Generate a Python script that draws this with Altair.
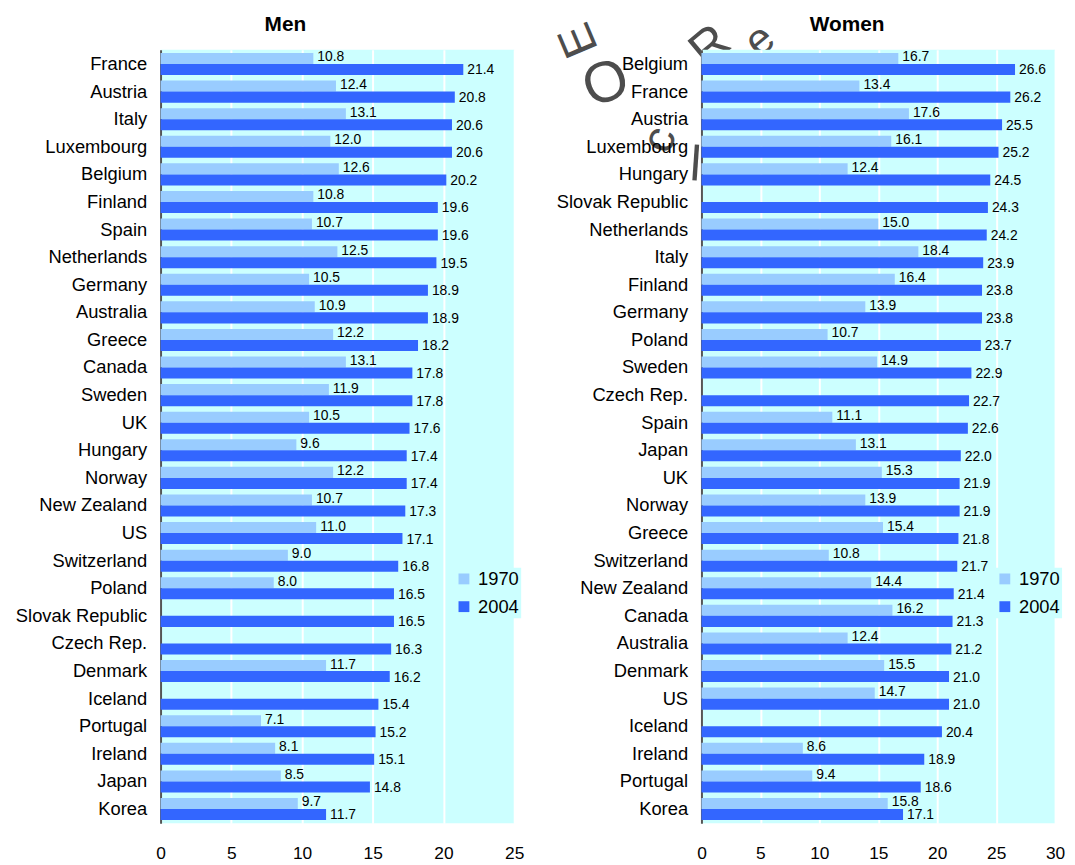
import altair as alt
import pandas as pd

# ---------------- data ----------------
men_countries = ["France", "Austria", "Italy", "Luxembourg", "Belgium", "Finland", "Spain",
                 "Netherlands", "Germany", "Australia", "Greece", "Canada", "Sweden", "UK",
                 "Hungary", "Norway", "New Zealand", "US", "Switzerland", "Poland",
                 "Slovak Republic", "Czech Rep.", "Denmark", "Iceland", "Portugal", "Ireland",
                 "Japan", "Korea"]
men_1970 = [10.8, 12.4, 13.1, 12.0, 12.6, 10.8, 10.7, 12.5, 10.5, 10.9, 12.2, 13.1, 11.9, 10.5,
            9.6, 12.2, 10.7, 11.0, 9.0, 8.0, None, None, 11.7, None, 7.1, 8.1, 8.5, 9.7]
men_2004 = [21.4, 20.8, 20.6, 20.6, 20.2, 19.6, 19.6, 19.5, 18.9, 18.9, 18.2, 17.8, 17.8, 17.6,
            17.4, 17.4, 17.3, 17.1, 16.8, 16.5, 16.5, 16.3, 16.2, 15.4, 15.2, 15.1, 14.8, 11.7]

women_countries = ["Belgium", "France", "Austria", "Luxembourg", "Hungary", "Slovak Republic",
                   "Netherlands", "Italy", "Finland", "Germany", "Poland", "Sweden", "Czech Rep.",
                   "Spain", "Japan", "UK", "Norway", "Greece", "Switzerland", "New Zealand",
                   "Canada", "Australia", "Denmark", "US", "Iceland", "Ireland", "Portugal",
                   "Korea"]
women_1970 = [16.7, 13.4, 17.6, 16.1, 12.4, None, 15.0, 18.4, 16.4, 13.9, 10.7, 14.9, None,
              11.1, 13.1, 15.3, 13.9, 15.4, 10.8, 14.4, 16.2, 12.4, 15.5, 14.7, None, 8.6, 9.4,
              15.8]
women_2004 = [26.6, 26.2, 25.5, 25.2, 24.5, 24.3, 24.2, 23.9, 23.8, 23.8, 23.7, 22.9, 22.7,
              22.6, 22.0, 21.9, 21.9, 21.8, 21.7, 21.4, 21.3, 21.2, 21.0, 21.0, 20.4, 18.9,
              18.6, 17.1]

years = ["1970", "2004"]
colors = ["#99CCFF", "#3366FF"]
panel_titles = ["Men", "Women"]

# decorative stamp letters seen behind the chart
stamp_letters = ["E", "O", "R", "e", "c", "l"]

FONT = "Liberation Sans"
BG = "#CCFFFF"


def long_df(countries, v1970, v2004):
    rows = []
    for c, a, b in zip(countries, v1970, v2004):
        if a is not None:
            rows.append({"country": c, "year": "1970", "value": a})
        rows.append({"country": c, "year": "2004", "value": b})
    return pd.DataFrame(rows)


def panel(title, title_x, countries, v1970, v2004, xmax, ticks, extra=None):
    df = long_df(countries, v1970, v2004)
    base = alt.Chart(df).encode(
        y=alt.Y("country:N", sort=countries, title=None,
                scale=alt.Scale(paddingInner=0.2, paddingOuter=0.12),
                axis=alt.Axis(labelFontSize=18.5, labelColor="black", labelFont=FONT,
                              labelPadding=14, ticks=False, domainColor="#555555",
                              domainWidth=2, labelLimit=300, grid=False)),
        yOffset=alt.YOffset("year:N", sort=years, scale=alt.Scale(paddingInner=0, paddingOuter=0)),
        x=alt.X("value:Q", title=None,
                scale=alt.Scale(domain=[0, xmax], nice=False),
                axis=alt.Axis(values=ticks, labelFontSize=17.5, labelColor="black", labelFont=FONT,
                              labelPadding=21, ticks=False, domain=False, grid=True,
                              labelFlush=False,
                              gridColor="white", gridWidth=2, format="d")),
    )
    bars = base.mark_bar().encode(
        color=alt.Color("year:N", sort=years, title=None,
                        scale=alt.Scale(domain=years, range=colors),
                        legend=alt.Legend(orient="none", legendX=295, legendY=523,
                                          symbolType="square", symbolSize=120,
                                          symbolStrokeWidth=0,
                                          labelFontSize=18.5, labelFont=FONT,
                                          labelColor="black", rowPadding=9,
                                          fillColor=BG, padding=2, labelOffset=5))
    )
    lab70 = base.transform_filter(alt.datum.year == "1970").mark_text(
        align="left", baseline="middle", dx=4, dy=-1, fontSize=14, font=FONT,
        color="black").encode(text=alt.Text("value:Q", format=".1f"))
    lab04 = base.transform_filter(alt.datum.year == "2004").mark_text(
        align="left", baseline="middle", dx=4, dy=1, fontSize=14, font=FONT,
        color="black").encode(text=alt.Text("value:Q", format=".1f"))
    head = alt.Chart(pd.DataFrame({"t": [title]})).mark_text(
        align="center", baseline="middle", fontSize=21, font=FONT, fontWeight="bold",
        color="black").encode(text="t:N", x=alt.value(title_x), y=alt.value(-25))
    layers = [bars, lab70, lab04, head]
    if extra:
        layers.extend(extra)
    return alt.layer(*layers).properties(
        width=357, height=781,
        view=alt.ViewBackground(fill=BG, stroke=None),
    )


# stamp letters, positioned relative to the left panel's plot area; the right panel's
# background (drawn later) hides the parts that fall inside it
stamp_specs = [
    (423, -10, 48, 247),
    (450, 35, 58, 340),
    (555, -3, 50, 320),
    (605, -9, 44, 320),
    (504, 91, 46, 290),
    (540, 117, 50, 4),
]
stamp = []
for letter, (sx, sy, fs, ang) in zip(stamp_letters, stamp_specs):
    stamp.append(
        alt.Chart(pd.DataFrame({"t": [letter]})).mark_text(
            align="center", baseline="middle", fontSize=fs, font=FONT, angle=ang,
            color="#4d4d4d").encode(text="t:N", x=alt.value(sx), y=alt.value(sy))
    )

men = panel(panel_titles[0], 126, men_countries, men_1970, men_2004, 25,
            [0, 5, 10, 15, 20, 25], extra=stamp)
women = panel(panel_titles[1], 147, women_countries, women_1970, women_2004, 30,
              [0, 5, 10, 15, 20, 25, 30])

chart = alt.hconcat(men, women, spacing=189, bounds="flush").resolve_scale(
    color="independent").resolve_legend(color="independent").configure_view(
    fill=BG, stroke=None).configure(background="white").properties(
    padding={"left": 7, "top": 2, "right": 2, "bottom": 2})

chart.save("out.html", embed_options={"renderer": "svg", "actions": False})
